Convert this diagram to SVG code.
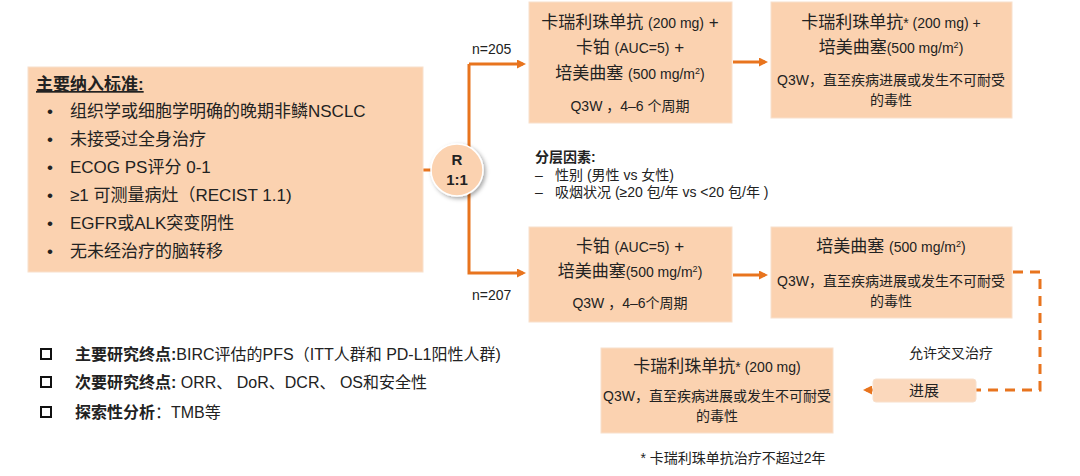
<svg xmlns="http://www.w3.org/2000/svg" width="1080" height="476" viewBox="0 0 1080 476">
<defs>
<style>
text{font-family:"Liberation Sans","Noto Sans CJK SC",sans-serif;fill:#222}
.box{fill:#fbd2b0;stroke:#f8e0cc;stroke-width:1}
.ln{stroke:#e8741e;stroke-width:3;fill:none}
.dl{stroke:#e8741e;stroke-width:3;fill:none;stroke-dasharray:10 7}
.c{text-anchor:middle}
.t15{font-size:15px}.t14{font-size:14px}.t16{font-size:17px}
</style>
<marker id="ah" markerWidth="9" markerHeight="9" refX="6" refY="4.5" orient="auto" markerUnits="userSpaceOnUse"><path d="M0,0L9,4.5L0,9z" fill="#e8741e"/></marker>
<filter id="sh" x="-30%" y="-30%" width="160%" height="160%"><feDropShadow dx="2" dy="2" stdDeviation="2" flood-opacity="0.35"/></filter>
</defs>
<rect width="1080" height="476" fill="#fff"/>
<g id="connectors">
<line class="ln" x1="423" y1="170" x2="440" y2="170"/>
<path class="ln" d="M469,64V273H523" marker-end="url(#ah)"/>
<line class="ln" x1="469" y1="64" x2="523" y2="64" marker-end="url(#ah)"/>
<line class="ln" x1="733" y1="62" x2="765" y2="62" marker-end="url(#ah)"/>
<line class="ln" x1="733" y1="275" x2="765" y2="275" marker-end="url(#ah)"/>
<path class="dl" d="M1013,272H1040V390H976"/>
<line class="dl" x1="873" y1="390" x2="866" y2="390" marker-end="url(#ah)"/>
</g>
<g id="criteria">
<rect class="box" x="28" y="67" width="395" height="205"/>
<text x="36" y="90" class="t16" font-weight="bold" text-decoration="underline">主要纳入标准:</text>
<g class="t16">
<text x="47" y="117">•</text><text x="70" y="117">组织学或细胞学明确的晚期非鳞NSCLC</text>
<text x="47" y="145">•</text><text x="70" y="145">未接受过全身治疗</text>
<text x="47" y="173">•</text><text x="70" y="173">ECOG PS评分 0-1</text>
<text x="47" y="201">•</text><text x="70" y="201">≥1 可测量病灶（RECIST 1.1)</text>
<text x="47" y="229">•</text><text x="70" y="229">EGFR或ALK突变阴性</text>
<text x="47" y="257">•</text><text x="70" y="257">无未经治疗的脑转移</text>
</g>
</g>
<g id="rand">
<circle cx="457" cy="170" r="26" fill="#fbd2b0" stroke="#fff" stroke-width="1.5" filter="url(#sh)"/>
<text x="457" y="165" class="c t15" font-weight="bold">R</text>
<text x="457" y="185" class="c t15" font-weight="bold">1:1</text>
</g>
<text x="472" y="54" class="t14">n=205</text>
<text x="472" y="300" class="t14">n=207</text>
<g id="arm1a">
<rect class="box" x="529" y="2" width="203" height="121"/>
<text x="630" y="28" class="c t16">卡瑞利珠单抗 <tspan font-size="14">(200 mg)</tspan> +</text>
<text x="630" y="53" class="c t16">卡铂 <tspan font-size="14">(AUC=5)</tspan> +</text>
<text x="630" y="79" class="c t16">培美曲塞 <tspan font-size="14">(500 mg/m<tspan dy="-5" font-size="9">2</tspan><tspan dy="5">)</tspan></tspan></text>
<text x="630" y="111" class="c t14">Q3W ，4–6 个周期</text>
</g>
<g id="arm1b">
<rect class="box" x="771" y="2" width="241" height="116"/>
<text x="891" y="28" class="c t16">卡瑞利珠单抗<tspan font-size="14">* (200 mg) +</tspan></text>
<text x="891" y="53" class="c t16">培美曲塞<tspan font-size="14">(500 mg/m<tspan dy="-5" font-size="9">2</tspan><tspan dy="5">)</tspan></tspan></text>
<text x="891" y="85" class="c t14">Q3W，直至疾病进展或发生不可耐受</text>
<text x="891" y="105" class="c t14">的毒性</text>
</g>
<g id="strat" class="t14">
<text x="535" y="162" font-weight="bold">分层因素:</text>
<text x="535" y="180">–</text><text x="555" y="180">性别 (男性 vs 女性)</text>
<text x="535" y="197">–</text><text x="555" y="197">吸烟状况 (≥20 包/年 vs  &lt;20 包/年 )</text>
</g>
<g id="arm2a">
<rect class="box" x="529" y="227" width="203" height="95"/>
<text x="630" y="252" class="c t16">卡铂 <tspan font-size="14">(AUC=5)</tspan> +</text>
<text x="630" y="277" class="c t16">培美曲塞<tspan font-size="14">(500 mg/m<tspan dy="-5" font-size="9">2</tspan><tspan dy="5">)</tspan></tspan></text>
<text x="630" y="308" class="c t14">Q3W ，4–6个周期</text>
</g>
<g id="arm2b">
<rect class="box" x="771" y="227" width="241" height="91"/>
<text x="891" y="252" class="c t16">培美曲塞 <tspan font-size="14">(500 mg/m<tspan dy="-5" font-size="9">2</tspan><tspan dy="5">)</tspan></tspan></text>
<text x="891" y="286" class="c t14">Q3W，直至疾病进展或发生不可耐受</text>
<text x="891" y="306" class="c t14">的毒性</text>
</g>
<text x="951" y="358" class="c t14">允许交叉治疗</text>
<g id="progress">
<rect x="873" y="379" width="103" height="23" rx="3" fill="#fbd8bc" stroke="#f8e0cc"/>
<text x="924" y="396" class="c t15">进展</text>
</g>
<g id="crossover">
<rect class="box" x="601" y="348" width="232" height="85"/>
<text x="717" y="372" class="c t16">卡瑞利珠单抗<tspan font-size="14">* (200 mg)</tspan></text>
<text x="717" y="401" class="c t14">Q3W，直至疾病进展或发生不可耐受</text>
<text x="717" y="421" class="c t14">的毒性</text>
</g>
<text x="733" y="463" class="c t14">* 卡瑞利珠单抗治疗不超过2年</text>
<g id="endpoints" class="t16">
<rect x="41" y="349" width="10" height="10" fill="none" stroke="#111" stroke-width="2"/>
<text x="48" y="360" dx="0"></text>
<text x="75" y="360" font-size="16"><tspan font-weight="bold">主要研究终点:</tspan>BIRC评估的PFS（ITT人群和 PD-L1阳性人群)</text>
<rect x="41" y="377" width="10" height="10" fill="none" stroke="#111" stroke-width="2"/>
<text x="75" y="388" font-size="16"><tspan font-weight="bold">次要研究终点:</tspan> ORR、 DoR、DCR、 OS和安全性</text>
<rect x="41" y="407" width="10" height="10" fill="none" stroke="#111" stroke-width="2"/>
<text x="75" y="418" font-size="16"><tspan font-weight="bold">探索性分析</tspan>：TMB等</text>
</g>
</svg>
